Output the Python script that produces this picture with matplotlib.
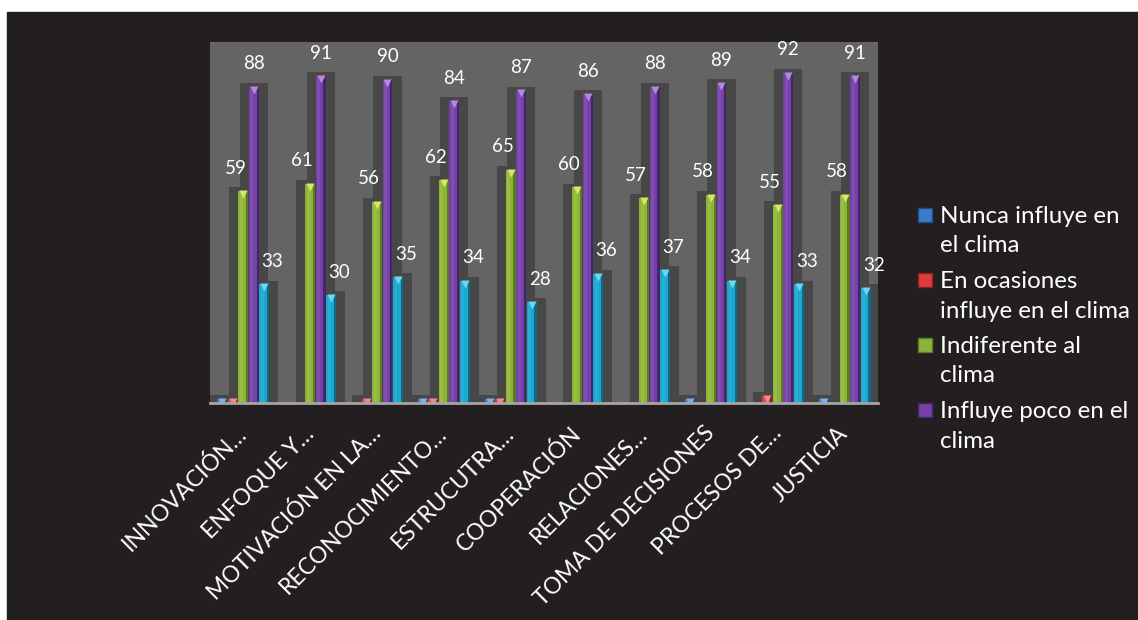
import numpy as np
import matplotlib.pyplot as plt
from matplotlib.patches import Rectangle
from matplotlib.transforms import offset_copy

plt.rcParams['font.family'] = ['Lato', 'DejaVu Sans']

categories = ["INNOVACIÓN…", "ENFOQUE Y…", "MOTIVACIÓN EN LA…", "RECONOCIMIENTO…",
              "ESTRUCUTRA…", "COOPERACIÓN", "RELACIONES…", "TOMA DE DECISIONES",
              "PROCESOS DE…", "JUSTICIA"]
nunca = [1, 0, 0, 1, 1, 0, 0, 1, 0, 1]
ocasiones = [1, 0, 1, 1, 1, 0, 0, 0, 2, 0]
indiferente = [59, 61, 56, 62, 65, 60, 57, 58, 55, 58]
influye_poco = [88, 91, 90, 84, 87, 86, 88, 89, 92, 91]
influye_mucho = [33, 30, 35, 34, 28, 36, 37, 34, 33, 32]

legend_labels = ["Nunca influye en\nel clima", "En ocasiones\ninfluye en el clima",
                 "Indiferente al\nclima", "Influye poco en el\nclima"]

series = [nunca, ocasiones, indiferente, influye_poco, influye_mucho]
# (base, dark edge, light cap)
palette = [("#3b7dcc", "#1f4f8a", "#7fb0e8"),
           ("#e03b3d", "#8e1f22", "#f08a8a"),
           ("#8db43a", "#5c7a22", "#d6e86a"),
           ("#7442a6", "#45256a", "#b38ad8"),
           ("#1ca7cf", "#0e6a86", "#6fd6ef")]
label_dx = [0, 0, -5.8, 0, 5.8]   # points
labelled = [False, False, True, True, True]

W, H = 1138, 620
fig = plt.figure(figsize=(W / 100, H / 100), dpi=100, facecolor="white")
# dark chart background
fig.patches.append(Rectangle((7 / W, 0), 1 - 7 / W, (H - 12) / H,
                             transform=fig.transFigure, color="#231f20", zorder=-10))

ax = fig.add_axes([210 / W, (H - 403) / H, (878 - 210) / W, (403 - 42) / H])
ax.set_zorder(1)
ax.set_facecolor("#646464")

x = np.arange(len(categories))
pitch = 0.157
bw = 0.148
offsets = (np.arange(5) - 2) * pitch

# depth shadows behind each column
for s, off in zip(series, offsets):
    v = np.array(s, dtype=float)
    sh = np.where(v > 0, v + 1.1, 0)
    ax.bar(x + off, sh, width=0.42, color="#474747", zorder=1, linewidth=0)

cap_tr = offset_copy(ax.transData, fig=fig, x=0, y=-3, units="dots")
for i, (s, off) in enumerate(zip(series, offsets)):
    base, dark, light = palette[i]
    v = np.array(s, dtype=float)
    ax.bar(x + off, v, width=bw, color=base, zorder=3, linewidth=0)
    ax.bar(x + off + bw * 0.39, v, width=bw * 0.22, color=dark, zorder=4, linewidth=0)
    ax.bar(x + off - bw * 0.2, v, width=bw * 0.3, color=light, alpha=0.18, zorder=4, linewidth=0)
    mask = v > 0
    ax.plot(x[mask] + off, v[mask], linestyle="none", marker="v", ms=5.5,
            color=light, mec="none", zorder=5, transform=cap_tr)
    if labelled[i]:
        for xi, vi in zip(x + off, s):
            ax.annotate(f"{vi}", (xi, vi), xytext=(label_dx[i], 16.5),
                        textcoords="offset points", ha="center", va="center",
                        color="white", fontsize=13.5, zorder=6)

ax.set_xlim(-0.5, len(categories) - 0.5)
ax.set_ylim(0, 100.5)
ax.set_yticks([])
ax.set_xticks(x)
ax.set_xticklabels(categories, rotation=45, ha="right", va="center",
                   rotation_mode="anchor", color="white", fontsize=16.5)
ax.tick_params(axis="x", length=0, pad=19.5)
for side in ["top", "left", "right"]:
    ax.spines[side].set_visible(False)
ax.spines["bottom"].set_color("#a6a6a6")
ax.spines["bottom"].set_linewidth(2)
ax.spines["bottom"].set_zorder(7)

# legend
rows_y = [215, 280, 345, 410]
for i, (lab, yy) in enumerate(zip(legend_labels, rows_y)):
    base, dark, light = palette[i]
    fig.patches.append(Rectangle((918 / W, (H - yy - 7) / H), 14 / W, 14 / H,
                                 transform=fig.transFigure, facecolor=base,
                                 edgecolor=dark, linewidth=1, zorder=3))
    fig.text(940 / W, (H - yy + 9) / H, lab, color="white", fontsize=17.4,
             ha="left", va="top", linespacing=1.5,
             transform=fig.transFigure)

fig.savefig("out.png", dpi=100, facecolor=fig.get_facecolor())
